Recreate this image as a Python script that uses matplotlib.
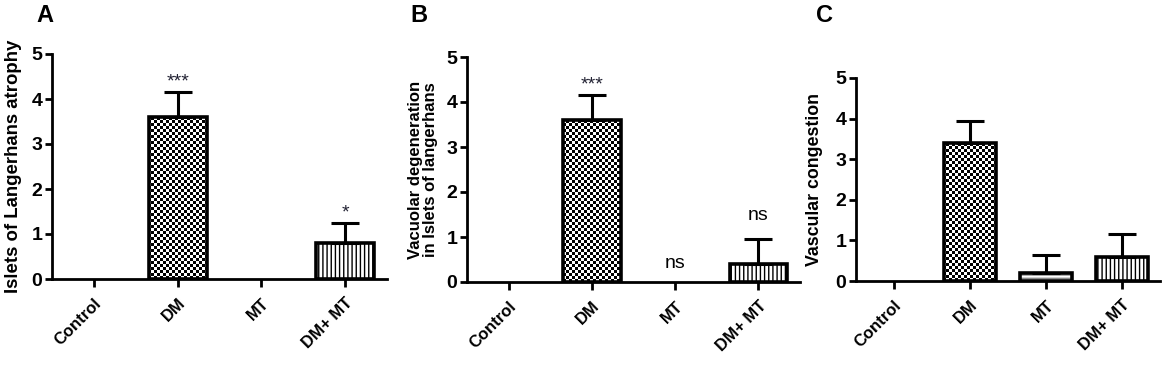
import numpy as np
import matplotlib
matplotlib.use("Agg")
import matplotlib.pyplot as plt

plt.rcParams['font.family'] = ['Liberation Sans', 'DejaVu Sans']
plt.rcParams['hatch.linewidth'] = 1.0

categories = ["Control", "DM", "MT", "DM+ MT"]

atrophy_mean = [0.0, 3.6, 0.0, 0.8]
atrophy_err = [0.0, 0.548, 0.0, 0.447]
atrophy_sig = ["", "***", "", "*"]

vacuolar_mean = [0.0, 3.6, 0.0, 0.4]
vacuolar_err = [0.0, 0.548, 0.0, 0.548]
vacuolar_sig = ["", "***", "ns", "ns"]

congestion_mean = [0.0, 3.4, 0.2, 0.6]
congestion_err = [0.0, 0.548, 0.447, 0.548]
congestion_sig = ["", "", "", ""]

panel_letters = ["A", "B", "C"]
ylabels = ["Islets of Langerhans atrophy",
           "Vacuolar degeneration\nin Islets of langerhans",
           "Vascular congestion"]
yticks = [0, 1, 2, 3, 4, 5]

W, H = 1170, 371
fig = plt.figure(figsize=(W / 100, H / 100), dpi=100)

# axes rectangles in pixels: left, right, bottom(y of 0), top(y of 5)
rects_px = [(52, 387, 279, 54), (467, 800, 282, 57), (856, 1160, 281, 78)]
letter_x = [36, 410, 816]
ylabel_size = [13.4, 12, 12.8]
ylabel_pad = [7, 6, 9]


def checker_image(ax, patch, cell=3):
    bb = ax.get_position()
    wpx = bb.width * W
    hpx = bb.height * H
    nx = int(np.ceil(wpx / cell))
    ny = int(np.ceil(hpx / cell))
    ii, jj = np.indices((ny, nx))
    arr = ((ii + jj) % 2).astype(float)
    im = ax.imshow(arr, extent=(0, 1, 0, 1), transform=ax.transAxes,
                   cmap='gray', interpolation='nearest', aspect='auto',
                   zorder=2, vmin=0, vmax=1)
    im.set_clip_path(patch)


datasets = [(atrophy_mean, atrophy_err, atrophy_sig),
            (vacuolar_mean, vacuolar_err, vacuolar_sig),
            (congestion_mean, congestion_err, congestion_sig)]

for k, ((means, errs, sigs), (l, r, b, t)) in enumerate(zip(datasets, rects_px)):
    ax = fig.add_axes([l / W, 1 - b / H, (r - l) / W, (b - t) / H])
    x = np.arange(len(categories))
    means = np.array(means)
    errs = np.array(errs)
    nz = means > 0

    # hatch layers
    if means[2] > 0:
        ax.bar(x[2], means[2], width=0.69, facecolor='white', edgecolor='#8a8a8a',
               linewidth=0, hatch='-----', zorder=2)
    if means[3] > 0:
        ax.bar(x[3], means[3], width=0.69, facecolor='white', edgecolor='black',
               linewidth=0, hatch='||||', zorder=2)
    bars = ax.bar(x[nz], means[nz], width=0.69, facecolor='none', edgecolor='black',
                  linewidth=2.6, zorder=3)
    if means[1] > 0:
        checker_image(ax, bars[list(x[nz]).index(1)])

    m = errs > 0
    ax.errorbar(x[m], means[m], yerr=[np.zeros(m.sum()), errs[m]], fmt='none',
                ecolor='black', elinewidth=2.2, capsize=10, capthick=2.2, zorder=2.5)

    for xi, mv, ev, s in zip(x, means, errs, sigs):
        if not s:
            continue
        if s == "ns":
            ax.text(xi, mv + ev + 0.52 if ev > 0 else mv + 0.42, s, ha='center',
                    va='center', fontsize=14)
        else:
            ax.text(xi, mv + ev + 0.22, s, ha='center', va='center',
                    fontsize=14, color='#222233')

    ax.set_xlim(-0.5, 3.5)
    ax.set_ylim(0, 5)
    ax.set_yticks(yticks)
    ax.set_xticks(x)
    ax.set_xticklabels(categories, rotation=45, ha='right', rotation_mode='anchor',
                       fontsize=12, fontweight='bold')
    ax.set_yticklabels([str(v) for v in yticks], fontsize=14, fontweight='bold')
    ax.tick_params(axis='both', width=2, length=5, direction='out', pad=2)
    ax.tick_params(axis='x', length=6, pad=6)
    for sp in ['top', 'right']:
        ax.spines[sp].set_visible(False)
    for sp in ['left', 'bottom']:
        ax.spines[sp].set_linewidth(2)
    ax.set_ylabel(ylabels[k], fontsize=ylabel_size[k], fontweight='bold',
                  labelpad=ylabel_pad[k], linespacing=1.0)
    ax.set_xlim(-0.5, 3.5)
    ax.set_ylim(0, 5)

    fig.text(letter_x[k] / W, 1 - 15 / H, panel_letters[k], fontsize=17,
             fontweight='bold', ha='left', va='center')

fig.savefig("out.png", dpi=100)
